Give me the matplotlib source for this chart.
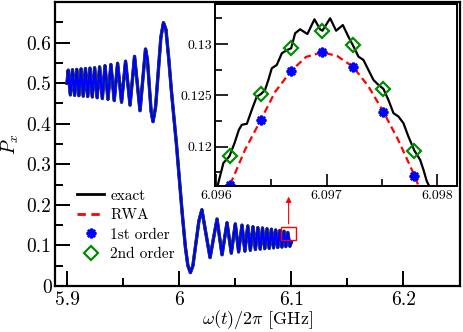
import numpy as np
import matplotlib
matplotlib.use("Agg")
import matplotlib.pyplot as plt
from matplotlib.lines import Line2D
from matplotlib.patches import Rectangle
from matplotlib.ticker import MultipleLocator, FixedLocator, FuncFormatter

plt.rcParams['font.family'] = ['cmr10']
plt.rcParams['mathtext.fontset'] = 'cm'
plt.rcParams['axes.formatter.use_mathtext'] = True

# main panel: P_x vs omega (peaks/troughs + a few midpoints)
main_omega = [5.9000, 5.90107, 5.90298, 5.90489, 5.90680, 5.90872, 5.91063, 5.91254,
              5.91450, 5.91645, 5.91846, 5.92046, 5.92255, 5.92464, 5.92686, 5.92908,
              5.93149, 5.93389, 5.93651, 5.93914, 5.94211, 5.94510, 5.94865, 5.95221,
              5.95621, 5.96022, 5.96266, 5.96511, 5.96755, 5.97000, 5.97169, 5.97333,
              5.97498, 5.97667, 5.97898, 5.98134, 5.98370, 5.98601, 5.98823, 5.99072,
              5.99312, 5.99775, 6.00273, 6.00558, 6.00780, 6.01002, 6.01225, 6.01492,
              6.01758, 6.02025, 6.02381, 6.02755, 6.03066, 6.03377, 6.03822, 6.04267,
              6.04649, 6.05005, 6.05303, 6.05601, 6.05859, 6.06117, 6.06348, 6.06579,
              6.06797, 6.07015, 6.07224, 6.07433, 6.07633, 6.07834, 6.08029, 6.08225,
              6.08416, 6.08607, 6.08794, 6.08981, 6.09163, 6.09346, 6.09514, 6.09683,
              6.09870, 6.1000]
main_p = [0.500, 0.532, 0.471, 0.533, 0.470, 0.534, 0.469, 0.535,
          0.468, 0.536, 0.467, 0.537, 0.466, 0.538, 0.464, 0.540,
          0.462, 0.543, 0.460, 0.546, 0.457, 0.549, 0.453, 0.554,
          0.446, 0.566, 0.499, 0.432, 0.508, 0.584, 0.558, 0.495,
          0.431, 0.405, 0.441, 0.527, 0.613, 0.649, 0.632, 0.560,
          0.480, 0.344, 0.179, 0.095, 0.050, 0.033, 0.050, 0.105,
          0.160, 0.188, 0.130, 0.070, 0.118, 0.165, 0.077, 0.156,
          0.081, 0.153, 0.084, 0.150, 0.086, 0.148, 0.088, 0.146,
          0.090, 0.144, 0.091, 0.143, 0.092, 0.141, 0.093, 0.140,
          0.094, 0.138, 0.095, 0.137, 0.096, 0.135, 0.097, 0.132,
          0.098, 0.108]

# inset: exact curve
exact_omega = [6.095990, 6.096012, 6.096066, 6.096120, 6.096167, 6.096206, 6.096233,
               6.096278, 6.096323, 6.096368, 6.096405, 6.096443, 6.096473, 6.096504,
               6.096549, 6.096595, 6.096640, 6.096679, 6.096715, 6.096760, 6.096826,
               6.096890, 6.096941, 6.096962, 6.097032, 6.097086, 6.097147, 6.097197,
               6.097237, 6.097288, 6.097333, 6.097378, 6.097424, 6.097469, 6.097514,
               6.097559, 6.097605, 6.097650, 6.097695, 6.097740, 6.097795, 6.097846,
               6.097876, 6.097907, 6.097937, 6.097960]
exact_p = [0.11550, 0.11614, 0.11842, 0.11906, 0.12036, 0.12165, 0.12214,
           0.12223, 0.12359, 0.12488, 0.12512, 0.12553, 0.12651, 0.12764,
           0.12796, 0.12910, 0.12940, 0.12958, 0.13104, 0.13143, 0.13097,
           0.13240, 0.13143, 0.13129, 0.13250, 0.13129, 0.13184, 0.13071,
           0.12990, 0.12877, 0.12845, 0.12748, 0.12650, 0.12602, 0.12563,
           0.12456, 0.12327, 0.12294, 0.12230, 0.12100, 0.11961, 0.11874,
           0.11777, 0.11663, 0.11600, 0.11500]

# inset: RWA
rwa_omega = [6.096090, 6.096127, 6.096262, 6.096405, 6.096534, 6.096679, 6.096814,
             6.096962, 6.097095, 6.097237, 6.097376, 6.097514, 6.097647, 6.097795,
             6.097846]
rwa_p = [0.11534, 0.11630, 0.11971, 0.12262, 0.12534, 0.12738, 0.12874,
         0.12919, 0.12883, 0.12780, 0.12592, 0.12340, 0.12068, 0.11721,
         0.11580]

# inset: perturbative orders
order_omega = [6.096125, 6.096405, 6.096679, 6.096962, 6.097237, 6.097514, 6.097795]
first_p = [0.1163, 0.1226, 0.1274, 0.1292, 0.1278, 0.1234, 0.1172]
second_p = [0.11906, 0.12512, 0.12958, 0.13129, 0.12990, 0.12563, 0.11961]

main_yticks = [0, 0.1, 0.2, 0.3, 0.4, 0.5, 0.6]

green = '#008c00'
W, H = 463, 332
fig = plt.figure(figsize=(W / 100, H / 100), dpi=100)

ax = fig.add_axes([55 / W, 1 - 286 / H, 405 / W, 284 / H])
ax.plot(main_omega, main_p, color='k', lw=2.4)
ax.plot(main_omega, main_p, color='r', lw=1.9)
ax.plot(main_omega, main_p, color=green, lw=2.0)
ax.plot(main_omega, main_p, color='b', lw=1.7)
ax.set_xlim(5.8893, 6.2504)
ax.set_ylim(0, 0.70)
ax.xaxis.set_major_locator(MultipleLocator(0.1))
ax.xaxis.set_minor_locator(MultipleLocator(0.05))
ax.yaxis.set_major_locator(FixedLocator(main_yticks))
ax.yaxis.set_minor_locator(FixedLocator([0.05, 0.15, 0.25, 0.35, 0.45, 0.55, 0.65]))
fmt = FuncFormatter(lambda v, p: '%g' % round(v, 6))
ax.xaxis.set_major_formatter(fmt)
ax.yaxis.set_major_formatter(fmt)
ax.tick_params(which='both', direction='in', top=False, right=False, labelsize=14, width=1.4)
ax.tick_params(which='major', length=10.5)
ax.tick_params(which='minor', length=5.5)
ax.tick_params(axis='x', pad=4)
ax.tick_params(axis='y', pad=2.5)
for s in ax.spines.values():
    s.set_linewidth(1.6)
ax.set_xlabel(r'$\omega(t)/2\pi\ [\mathrm{GHz}]$', fontsize=13, labelpad=-1)
ax.set_ylabel(r'$P_x$', fontsize=14, labelpad=4)

# zoom box + arrow
ax.add_patch(Rectangle((6.0909, 0.1136), 0.0134, 0.0328, fill=False, ec='r', lw=1.0, zorder=5))
ax.annotate('', xy=(6.0976, 0.227), xytext=(6.0976, 0.1464),
            arrowprops=dict(arrowstyle='-|>', color='r', lw=0.8, mutation_scale=8))

handles = [Line2D([], [], color='k', lw=2),
           Line2D([], [], color='r', lw=2, ls=(0, (3, 2))),
           Line2D([], [], color='b', ls='none', marker=(8, 2, 0), ms=7, mew=1.8),
           Line2D([], [], color=green, ls='none', marker='D', ms=7, mfc='none', mew=1.6)]
ax.legend(handles, ['exact', 'RWA', '1st order', '2nd order'], loc='lower left',
          bbox_to_anchor=(0.035, 0.06), frameon=False, fontsize=11,
          handlelength=1.8, handletextpad=0.4, labelspacing=0.38, borderpad=0)

# inset
axi = fig.add_axes([215 / W, 1 - 186 / H, 242 / W, 182 / H])
axi.plot(exact_omega, exact_p, color='k', lw=1.6)
axi.plot(rwa_omega, rwa_p, color='r', lw=1.6, ls=(0, (3.2, 1.9)))
axi.plot(order_omega, first_p, color='b', ls='none', marker=(8, 2, 0), ms=7, mew=1.8)
axi.plot(order_omega, second_p, color=green, ls='none', marker='D', ms=7, mfc='none', mew=1.6)
axi.set_xlim(6.09599, 6.09818)
axi.set_ylim(0.11618, 0.13389)
axi.xaxis.set_major_locator(MultipleLocator(0.001))
axi.xaxis.set_minor_locator(MultipleLocator(0.0005))
axi.yaxis.set_major_locator(MultipleLocator(0.005))
axi.yaxis.set_minor_locator(MultipleLocator(0.0025))
axi.xaxis.set_major_formatter(fmt)
axi.yaxis.set_major_formatter(fmt)
axi.tick_params(which='both', direction='in', top=False, right=False, labelsize=10, width=1.2)
axi.tick_params(which='major', length=9)
axi.tick_params(which='minor', length=5)
axi.tick_params(axis='x', pad=3)
axi.tick_params(axis='y', pad=2)
for s in axi.spines.values():
    s.set_linewidth(1.4)

fig.savefig('out.png', dpi=100)
